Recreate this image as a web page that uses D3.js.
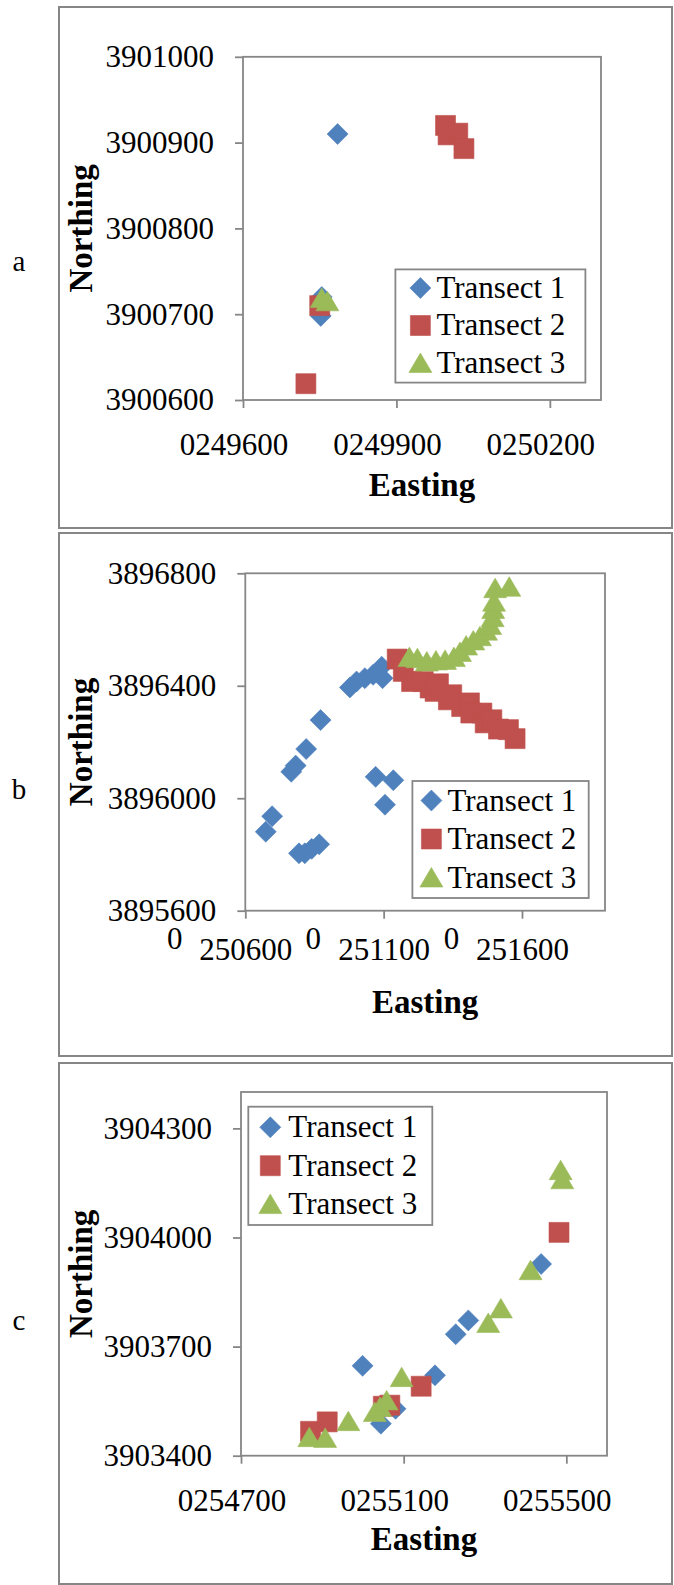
<!DOCTYPE html>
<html>
<head>
<meta charset="utf-8">
<script src="https://cdn.jsdelivr.net/npm/d3@7/dist/d3.min.js"></script>
<style>
  html, body { margin: 0; padding: 0; background: #fff; }
  svg { display: block; }
  text { font-family: "Liberation Serif", "Times New Roman", serif; fill: #000; }
</style>
</head>
<body>
<svg id="chart" width="674" height="1585"></svg>
<script>
// ---- Series names ----
const seriesNames = ["Transect 1", "Transect 2", "Transect 3"];

// ---- Site a: [easting, northing] ----
const aTransect1 = [[249785, 3900910], [249752, 3900698], [249754, 3900720]];
const aTransect2 = [[249996, 3900920], [250001, 3900909], [250020, 3900911], [250032, 3900893],
                    [249750, 3900710], [249723, 3900619]];
const aTransect3 = [[249754, 3900719], [249765, 3900715]];

// ---- Site b ----
const bTransect1 = [[250674, 3895881], [250697, 3895936], [250766, 3896094], [250782, 3896116],
                    [250820, 3896175], [250872, 3896278], [250794, 3895804], [250815, 3895804],
                    [250840, 3895820], [250867, 3895836], [250978, 3896394], [251002, 3896415],
                    [251032, 3896427], [251062, 3896439], [251093, 3896468], [251096, 3896427],
                    [251071, 3896076], [251135, 3896064], [251105, 3895977]];
const bTransect2 = [[251149, 3896495], [251171, 3896451], [251201, 3896415], [251243, 3896415],
                    [251268, 3896392], [251286, 3896380], [251298, 3896407], [251334, 3896350],
                    [251346, 3896368], [251382, 3896326], [251410, 3896339], [251415, 3896303],
                    [251455, 3896303], [251467, 3896268], [251491, 3896279], [251515, 3896246],
                    [251551, 3896244], [251575, 3896212]];
const bTransect3 = [[251193, 3896502], [251222, 3896498], [251256, 3896486], [251289, 3896490],
                    [251322, 3896492], [251354, 3896502], [251376, 3896520], [251398, 3896543],
                    [251424, 3896561], [251448, 3896576], [251470, 3896596], [251485, 3896616],
                    [251494, 3896644], [251496, 3896673], [251499, 3896699], [251503, 3896747],
                    [251554, 3896752]];

// ---- Site c ----
const cTransect1 = [[254999, 3903647], [255044, 3903488], [255080, 3903529], [255177, 3903621],
                    [255228, 3903734], [255259, 3903772], [255438, 3903927]];
const cTransect2 = [[254871, 3903467], [254912, 3903493], [255050, 3903536], [255066, 3903539],
                    [255143, 3903591], [255482, 3904014]];
const cTransect3 = [[254868, 3903451], [254907, 3903449], [254964, 3903495], [255029, 3903520],
                    [255042, 3903534], [255058, 3903552], [255095, 3903616], [255308, 3903765],
                    [255339, 3903805], [255412, 3903910], [255486, 3904185], [255490, 3904160]];

// ---- Axis ranges and tick labels ----
const aXDomain = [249600, 250300], aXTicks = [249600, 249900, 250200];
const aXTickLabels = ["0249600", "0249900", "0250200"];
const aYDomain = [3900600, 3901000], aYTicks = [3900600, 3900700, 3900800, 3900900, 3901000];

const bXDomain = [250600, 251900], bXTicks = [250600, 251100, 251600];
const bXTickLabels = ["250600", "251100", "251600"];
const bXTickPrefix = ["0", "0", "0"];
const bYDomain = [3895600, 3896800], bYTicks = [3895600, 3896000, 3896400, 3896800];

const cXDomain = [254700, 255600], cXTicks = [254700, 255100, 255500];
const cXTickLabels = ["0254700", "0255100", "0255500"];
const cYDomain = [3903400, 3904400], cYTicks = [3903400, 3903700, 3904000, 3904300];

const xTitle = "Easting", yTitle = "Northing";

// ---- Styling ----
const colors = ["#4F81BD", "#C0504D", "#9BBB59"];
const markerPaths = [
  "M0,-10.5L10.5,0L0,10.5L-10.5,0Z",  // diamond
  "M-10,-10H10V10H-10Z",              // square
  "M0,-10L11.5,9.5L-11.5,9.5Z"        // triangle
];
const gridGray = "#868686";

const panels = [
  {
    letter: "a", frame: [59, 7, 613, 521], letterPos: [19, 271],
    plot: { left: 243, right: 601, top: 56.8, bottom: 400 },
    xDomain: aXDomain, xTicks: aXTicks, xLabels: aXTickLabels, xPrefix: null,
    yDomain: aYDomain, yTicks: aYTicks,
    series: [aTransect1, aTransect2, aTransect3],
    legend: { x: 395.4, y: 269.4, w: 190, h: 113.2, mx: 25, tx: 41, first: 18.6, step: 37.5 },
    xTitleY: 495.5
  },
  {
    letter: "b", frame: [59, 533, 613, 523], letterPos: [19, 799],
    plot: { left: 245.3, right: 605, top: 573.3, bottom: 910.7 },
    xDomain: bXDomain, xTicks: bXTicks, xLabels: bXTickLabels, xPrefix: bXTickPrefix,
    yDomain: bYDomain, yTicks: bYTicks,
    series: [bTransect1, bTransect2, bTransect3],
    legend: { x: 412.4, y: 781, w: 176.3, h: 117, mx: 19, tx: 35, first: 19.5, step: 38.5 },
    xTitleY: 1013
  },
  {
    letter: "c", frame: [59, 1063, 613, 521], letterPos: [19, 1330],
    plot: { left: 241, right: 607, top: 1092, bottom: 1455.7 },
    xDomain: cXDomain, xTicks: cXTicks, xLabels: cXTickLabels, xPrefix: null,
    yDomain: cYDomain, yTicks: cYTicks,
    series: [cTransect1, cTransect2, cTransect3],
    legend: { x: 248.3, y: 1106.7, w: 184, h: 118.3, mx: 22, tx: 40, first: 20.6, step: 38.4 },
    xTitleY: 1550
  }
];

const svg = d3.select("#chart");
svg.append("rect").attr("width", 674).attr("height", 1585).attr("fill", "#fff");

panels.forEach(p => {
  const g = svg.append("g");

  // panel frame
  g.append("rect")
    .attr("x", p.frame[0]).attr("y", p.frame[1])
    .attr("width", p.frame[2]).attr("height", p.frame[3])
    .attr("fill", "#fff").attr("stroke", gridGray).attr("stroke-width", 2);

  // panel letter
  g.append("text").attr("x", p.letterPos[0]).attr("y", p.letterPos[1])
    .attr("text-anchor", "middle").attr("font-size", 29).text(p.letter);

  const x = d3.scaleLinear().domain(p.xDomain).range([p.plot.left, p.plot.right]);
  const y = d3.scaleLinear().domain(p.yDomain).range([p.plot.bottom, p.plot.top]);

  // plot area border
  g.append("rect")
    .attr("x", p.plot.left).attr("y", p.plot.top)
    .attr("width", p.plot.right - p.plot.left).attr("height", p.plot.bottom - p.plot.top)
    .attr("fill", "none").attr("stroke", gridGray).attr("stroke-width", 1.8);

  // y axis
  const yAxis = d3.axisLeft(y).tickValues(p.yTicks).tickFormat(d3.format("d"))
    .tickSize(8).tickSizeOuter(0).tickPadding(21);
  const gy = g.append("g").attr("transform", `translate(${p.plot.left},0)`).call(yAxis);
  gy.select(".domain").remove();
  gy.selectAll(".tick line").attr("stroke", gridGray).attr("stroke-width", 1.8);
  gy.selectAll(".tick text").attr("font-size", 31)
    .attr("font-family", "Liberation Serif, serif").attr("fill", "#000");

  // x axis
  const labelFor = d => p.xLabels[p.xTicks.indexOf(d)];
  const xAxis = d3.axisBottom(x).tickValues(p.xTicks).tickFormat(labelFor)
    .tickSize(8).tickSizeOuter(0);
  const gx = g.append("g").attr("transform", `translate(0,${p.plot.bottom})`).call(xAxis);
  gx.select(".domain").remove();
  gx.selectAll(".tick line").attr("stroke", gridGray).attr("stroke-width", 1.8);
  const xt = gx.selectAll(".tick text").attr("font-size", 31)
    .attr("font-family", "Liberation Serif, serif").attr("fill", "#000").attr("dy", null);
  if (p.xPrefix) {
    xt.attr("x", 0).attr("y", 49.5);
    gx.selectAll(".tick").append("text")
      .attr("x", -71).attr("y", 38.5)
      .attr("text-anchor", "middle").attr("font-size", 31)
      .attr("font-family", "Liberation Serif, serif").attr("fill", "#000")
      .text(d => p.xPrefix[p.xTicks.indexOf(d)]);
  } else {
    xt.attr("x", -9.5).attr("y", 55);
  }

  // axis titles
  g.append("text")
    .attr("x", (p.plot.left + p.plot.right) / 2).attr("y", p.xTitleY)
    .attr("text-anchor", "middle").attr("font-size", 33).attr("font-weight", "bold")
    .text(xTitle);
  g.append("text")
    .attr("transform", `translate(92,${(p.plot.top + p.plot.bottom) / 2}) rotate(-90)`)
    .attr("text-anchor", "middle").attr("font-size", 33).attr("font-weight", "bold")
    .text(yTitle);

  // markers, drawn series by series
  p.series.forEach((pts, si) => {
    g.append("g").selectAll("path").data(pts).join("path")
      .attr("d", markerPaths[si])
      .attr("transform", d => `translate(${x(d[0])},${y(d[1])})`)
      .attr("fill", colors[si])
      .attr("stroke", colors[si]).attr("stroke-width", 0.6);
  });

  // legend
  const L = p.legend;
  const lg = g.append("g").attr("transform", `translate(${L.x},${L.y})`);
  lg.append("rect").attr("width", L.w).attr("height", L.h)
    .attr("fill", "#fff").attr("stroke", gridGray).attr("stroke-width", 1.8);
  seriesNames.forEach((name, si) => {
    const cy = L.first + si * L.step;
    lg.append("path").attr("d", markerPaths[si])
      .attr("transform", `translate(${L.mx},${cy})`)
      .attr("fill", colors[si]).attr("stroke", colors[si]).attr("stroke-width", 0.6);
    lg.append("text").attr("x", L.tx).attr("y", cy + 10)
      .attr("font-size", 31).text(name);
  });
});
</script>
</body>
</html>
